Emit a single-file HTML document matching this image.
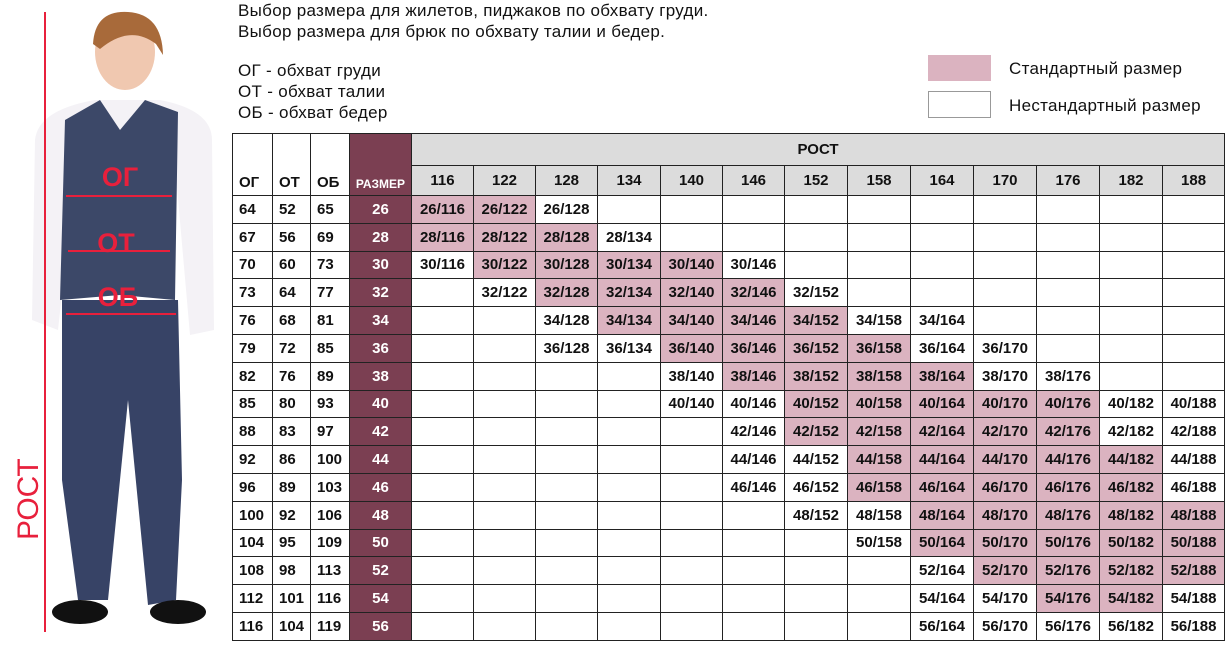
<!DOCTYPE html>
<html><head><meta charset="utf-8"><style>
body{margin:0;width:1232px;height:663px;background:#fff;position:relative;overflow:hidden;font-family:"Liberation Sans","DejaVu Sans",sans-serif;}
.t{position:absolute;font-size:17px;color:#111;line-height:21px;letter-spacing:0.3px;}
table{position:absolute;left:232px;top:133px;border-collapse:collapse;table-layout:fixed;width:993px;}
td{border:1px solid #222;height:26.8px;padding:0;font-size:15px;font-weight:bold;color:#111;text-align:center;white-space:nowrap;overflow:hidden;}
td.l{text-align:left;padding-left:6px;}
.p{background:#dbb3c0;}
.m{background:#7b3f52;color:#fff;}
.g{background:#dcdcdc;}
.h td{vertical-align:bottom;padding-bottom:4px;}
</style></head><body>
<svg width="230" height="663" style="position:absolute;left:0;top:0">
<ellipse cx="125" cy="52" rx="30" ry="38" fill="#f0c8b0"/>
<path d="M93 44 Q95 10 128 12 Q162 14 163 55 L156 44 Q130 24 100 49 Z" fill="#a86a3a"/>
<path d="M35 140 Q38 110 95 100 L160 100 Q212 110 212 140 L214 330 L190 335 L172 130 L80 130 L58 330 L32 320 Z" fill="#f4f2f6"/>
<path d="M65 120 L100 100 L120 130 L145 100 L178 112 L175 300 L120 295 L60 300 Z" fill="#3c4868"/>
<path d="M62 300 L178 300 L182 480 L176 600 L148 605 L128 400 L108 600 L78 600 L62 480 Z" fill="#374366"/>
<ellipse cx="80" cy="612" rx="28" ry="12" fill="#111"/>
<ellipse cx="178" cy="612" rx="28" ry="12" fill="#111"/>
<line x1="45" y1="12" x2="45" y2="632" stroke="#e8203c" stroke-width="2"/>
<line x1="66" y1="196" x2="172" y2="196" stroke="#e8203c" stroke-width="2"/>
<line x1="68" y1="251" x2="170" y2="251" stroke="#e8203c" stroke-width="2"/>
<line x1="66" y1="314" x2="176" y2="314" stroke="#e8203c" stroke-width="2"/>
<text x="120" y="186" fill="#e8203c" font-size="27" font-weight="bold" text-anchor="middle" font-family="Liberation Sans,sans-serif">ОГ</text>
<text x="116" y="252" fill="#e8203c" font-size="27" font-weight="bold" text-anchor="middle" font-family="Liberation Sans,sans-serif">ОТ</text>
<text x="118" y="306" fill="#e8203c" font-size="27" font-weight="bold" text-anchor="middle" font-family="Liberation Sans,sans-serif">ОБ</text>
<text transform="translate(38,540) rotate(-90)" fill="#e8203c" font-size="30" font-family="Liberation Sans,sans-serif">РОСТ</text>
</svg>
<div class="t" style="left:238px;top:0px">Выбор размера для жилетов, пиджаков по обхвату груди.<br>Выбор размера для брюк по обхвату талии и бедер.</div>
<div class="t" style="left:238px;top:60px">ОГ - обхват груди<br>ОТ - обхват талии<br>ОБ - обхват бедер</div>
<div style="position:absolute;left:928px;top:55px;width:63px;height:26px;background:#dbb3c0"></div>
<div style="position:absolute;left:928px;top:91px;width:61px;height:25px;border:1px solid #999"></div>
<div class="t" style="left:1009px;top:58px">Стандартный размер</div>
<div class="t" style="left:1009px;top:95px">Нестандартный размер</div>
<table>
<colgroup><col style="width:40px"><col style="width:38px"><col style="width:39px"><col style="width:62px"><col style="width:62px"><col style="width:62px"><col style="width:62px"><col style="width:63px"><col style="width:62px"><col style="width:62px"><col style="width:63px"><col style="width:63px"><col style="width:63px"><col style="width:63px"><col style="width:63px"><col style="width:63px"><col style="width:62px"></colgroup>
<tr class="h"><td rowspan="2" class="l" style="height:56px">ОГ</td><td rowspan="2" class="l">ОТ</td><td rowspan="2" class="l">ОБ</td><td rowspan="2" class="m" style="font-size:12px">РАЗМЕР</td><td colspan="13" class="g" style="height:31px;vertical-align:middle;padding:0">РОСТ</td></tr>
<tr><td class="g" style="height:29px">116</td><td class="g">122</td><td class="g">128</td><td class="g">134</td><td class="g">140</td><td class="g">146</td><td class="g">152</td><td class="g">158</td><td class="g">164</td><td class="g">170</td><td class="g">176</td><td class="g">182</td><td class="g">188</td></tr>
<tr><td class="l">64</td><td class="l">52</td><td class="l">65</td><td class="m">26</td><td class="p">26/116</td><td class="p">26/122</td><td>26/128</td><td></td><td></td><td></td><td></td><td></td><td></td><td></td><td></td><td></td><td></td></tr>
<tr><td class="l">67</td><td class="l">56</td><td class="l">69</td><td class="m">28</td><td class="p">28/116</td><td class="p">28/122</td><td class="p">28/128</td><td>28/134</td><td></td><td></td><td></td><td></td><td></td><td></td><td></td><td></td><td></td></tr>
<tr><td class="l">70</td><td class="l">60</td><td class="l">73</td><td class="m">30</td><td>30/116</td><td class="p">30/122</td><td class="p">30/128</td><td class="p">30/134</td><td class="p">30/140</td><td>30/146</td><td></td><td></td><td></td><td></td><td></td><td></td><td></td></tr>
<tr><td class="l">73</td><td class="l">64</td><td class="l">77</td><td class="m">32</td><td></td><td>32/122</td><td class="p">32/128</td><td class="p">32/134</td><td class="p">32/140</td><td class="p">32/146</td><td>32/152</td><td></td><td></td><td></td><td></td><td></td><td></td></tr>
<tr><td class="l">76</td><td class="l">68</td><td class="l">81</td><td class="m">34</td><td></td><td></td><td>34/128</td><td class="p">34/134</td><td class="p">34/140</td><td class="p">34/146</td><td class="p">34/152</td><td>34/158</td><td>34/164</td><td></td><td></td><td></td><td></td></tr>
<tr><td class="l">79</td><td class="l">72</td><td class="l">85</td><td class="m">36</td><td></td><td></td><td>36/128</td><td>36/134</td><td class="p">36/140</td><td class="p">36/146</td><td class="p">36/152</td><td class="p">36/158</td><td>36/164</td><td>36/170</td><td></td><td></td><td></td></tr>
<tr><td class="l">82</td><td class="l">76</td><td class="l">89</td><td class="m">38</td><td></td><td></td><td></td><td></td><td>38/140</td><td class="p">38/146</td><td class="p">38/152</td><td class="p">38/158</td><td class="p">38/164</td><td>38/170</td><td>38/176</td><td></td><td></td></tr>
<tr><td class="l">85</td><td class="l">80</td><td class="l">93</td><td class="m">40</td><td></td><td></td><td></td><td></td><td>40/140</td><td>40/146</td><td class="p">40/152</td><td class="p">40/158</td><td class="p">40/164</td><td class="p">40/170</td><td class="p">40/176</td><td>40/182</td><td>40/188</td></tr>
<tr><td class="l">88</td><td class="l">83</td><td class="l">97</td><td class="m">42</td><td></td><td></td><td></td><td></td><td></td><td>42/146</td><td class="p">42/152</td><td class="p">42/158</td><td class="p">42/164</td><td class="p">42/170</td><td class="p">42/176</td><td>42/182</td><td>42/188</td></tr>
<tr><td class="l">92</td><td class="l">86</td><td class="l">100</td><td class="m">44</td><td></td><td></td><td></td><td></td><td></td><td>44/146</td><td>44/152</td><td class="p">44/158</td><td class="p">44/164</td><td class="p">44/170</td><td class="p">44/176</td><td class="p">44/182</td><td>44/188</td></tr>
<tr><td class="l">96</td><td class="l">89</td><td class="l">103</td><td class="m">46</td><td></td><td></td><td></td><td></td><td></td><td>46/146</td><td>46/152</td><td class="p">46/158</td><td class="p">46/164</td><td class="p">46/170</td><td class="p">46/176</td><td class="p">46/182</td><td>46/188</td></tr>
<tr><td class="l">100</td><td class="l">92</td><td class="l">106</td><td class="m">48</td><td></td><td></td><td></td><td></td><td></td><td></td><td>48/152</td><td>48/158</td><td class="p">48/164</td><td class="p">48/170</td><td class="p">48/176</td><td class="p">48/182</td><td class="p">48/188</td></tr>
<tr><td class="l">104</td><td class="l">95</td><td class="l">109</td><td class="m">50</td><td></td><td></td><td></td><td></td><td></td><td></td><td></td><td>50/158</td><td class="p">50/164</td><td class="p">50/170</td><td class="p">50/176</td><td class="p">50/182</td><td class="p">50/188</td></tr>
<tr><td class="l">108</td><td class="l">98</td><td class="l">113</td><td class="m">52</td><td></td><td></td><td></td><td></td><td></td><td></td><td></td><td></td><td>52/164</td><td class="p">52/170</td><td class="p">52/176</td><td class="p">52/182</td><td class="p">52/188</td></tr>
<tr><td class="l">112</td><td class="l">101</td><td class="l">116</td><td class="m">54</td><td></td><td></td><td></td><td></td><td></td><td></td><td></td><td></td><td>54/164</td><td>54/170</td><td class="p">54/176</td><td class="p">54/182</td><td>54/188</td></tr>
<tr><td class="l">116</td><td class="l">104</td><td class="l">119</td><td class="m">56</td><td></td><td></td><td></td><td></td><td></td><td></td><td></td><td></td><td>56/164</td><td>56/170</td><td>56/176</td><td>56/182</td><td>56/188</td></tr>
</table>
</body></html>
